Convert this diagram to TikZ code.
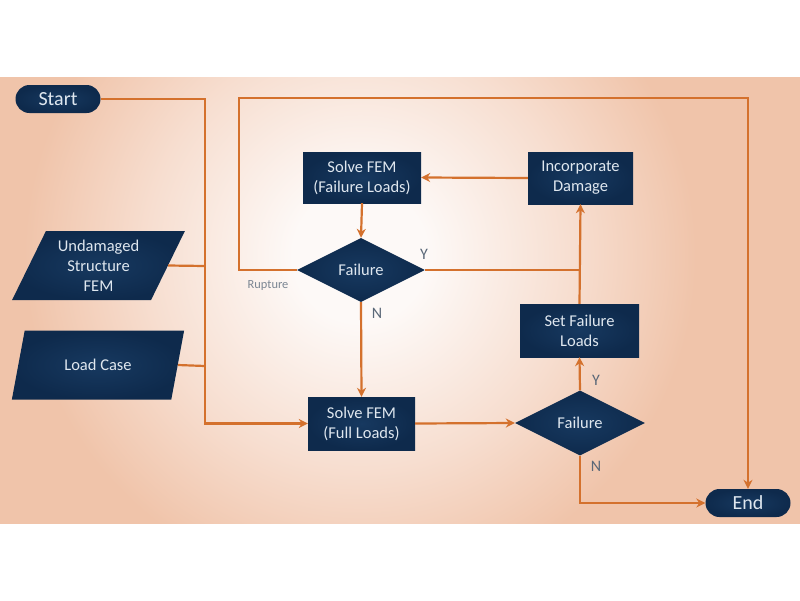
\documentclass[tikz,border=0pt]{standalone}
\usepackage{fontspec}
\setmainfont{Carlito}
\usetikzlibrary{shapes.geometric,arrows.meta}
\definecolor{bgin}{HTML}{FDF9F7}
\definecolor{bgmid}{HTML}{F7DED0}
\definecolor{bgout}{HTML}{F0C4AA}
\definecolor{navy}{HTML}{0E2A4C}
\definecolor{navyin}{HTML}{173960}
\definecolor{boxtxt}{HTML}{DFE7EF}
\definecolor{flow}{HTML}{D4712D}
\definecolor{lblgray}{HTML}{5A6878}
\pgfdeclareradialshading{bgglow}{\pgfpoint{0bp}{0bp}}{color(0bp)=(bgin); color(3bp)=(bgin); color(9.5bp)=(bgmid); color(15bp)=(bgout); color(50bp)=(bgout)}
\begin{document}
\begin{tikzpicture}[x=1pt,y=-1pt,
  shape fill/.style={inner color=navyin, outer color=navy},
  procbox/.style={rectangle, shape fill, text=boxtxt, inner sep=0pt, align=center,
    font=\fontsize{16.5}{20}\selectfont},
  termbox/.style={rectangle, rounded corners=14pt, shape fill, text=boxtxt, inner sep=0pt,
    minimum width=85pt, minimum height=28pt, font=\fontsize{20}{24}\selectfont},
  decbox/.style={diamond, shape fill, text=boxtxt, inner sep=0pt, aspect=2,
    minimum width=128pt, minimum height=64pt, font=\fontsize{16.5}{20}\selectfont},
  iobox/.style={trapezium, trapezium left angle=63, trapezium right angle=117,
    trapezium stretches=true, shape fill, text=boxtxt, inner sep=0pt, align=center,
    minimum width=173pt, minimum height=69pt, font=\fontsize{16.5}{20}\selectfont},
  conn/.style={draw=flow, line width=2.2pt},
  arr/.style={conn, -{Stealth[length=9pt,width=9pt]}},
  lbl/.style={text=lblgray, font=\fontsize{16}{18}\selectfont, inner sep=0pt},
  smalllbl/.style={text=lblgray!80, font=\fontsize{12.4}{14}\selectfont, inner sep=0pt}
]
\useasboundingbox (0,0) rectangle (800,600);
\fill[white] (0,0) rectangle (800,600);
\begin{scope}
  \clip (0,77) rectangle (800,523);
  \fill[bgout] (0,77) rectangle (800,523);
  \shade[shading=bgglow] (360,255) circle[radius=560pt];
\end{scope}

% nodes
\node[termbox] (start) at (58,99) {Start};
\node[termbox] (end) at (748,503) {End};
\node[iobox] (und) at (98.5,265.5) {Undamaged\\Structure\\FEM};
\node[iobox] (load) at (98,365) {Load Case};
\node[procbox, minimum width=118pt, minimum height=51pt] (sfail) at (362,177.5) {Solve FEM\\(Failure Loads)};
\node[procbox, minimum width=105pt, minimum height=52pt] (incd) at (580.5,178) {Incorporate\\Damage};
\node[decbox] (fd1) at (361,270) {Failure};
\node[procbox, minimum width=119pt, minimum height=53pt] (setf) at (579.5,330.5) {Set Failure\\Loads};
\node[procbox, minimum width=107pt, minimum height=53pt] (full) at (361.5,423.5) {Solve FEM\\(Full Loads)};
\node[decbox, minimum width=130pt, minimum height=65pt] (fd2) at (580,423) {Failure};

% junction coordinates
\coordinate (jtop) at (205,99);
\coordinate (jund) at (205,266);
\coordinate (jload) at (205,366);
\coordinate (rtop) at (239,98);

% connectors
\draw[arr] (start.east) -- (jtop) |- (full.west);
\draw[conn] (und.right side) -- (jund);
\draw[conn] (load.right side) -- (jload);
\draw[arr] (sfail.south) -- (fd1.north);
\draw[arr] (fd1.south) -- (full.north);
\draw[arr] (fd1.west) -| (rtop) -| (end.north);
\draw[conn] (fd1.east) -- (setf.north |- fd1.east);
\draw[arr] (setf.north) -- (incd.south);
\draw[arr] (incd.west) -- (sfail.east);
\draw[arr] (full.east) -- (fd2.west);
\draw[arr] (fd2.north) -- (setf.south);
\draw[arr] (fd2.south) |- (end.west);

% labels
\node[lbl] (y1) at (424,254) {Y};
\node[lbl] (n1) at (377,313) {N};
\node[lbl] (y2) at (596,380) {Y};
\node[lbl] (n2) at (596,466) {N};
\node[smalllbl] (rup) at (268,286) {Rupture};
\end{tikzpicture}
\end{document}
